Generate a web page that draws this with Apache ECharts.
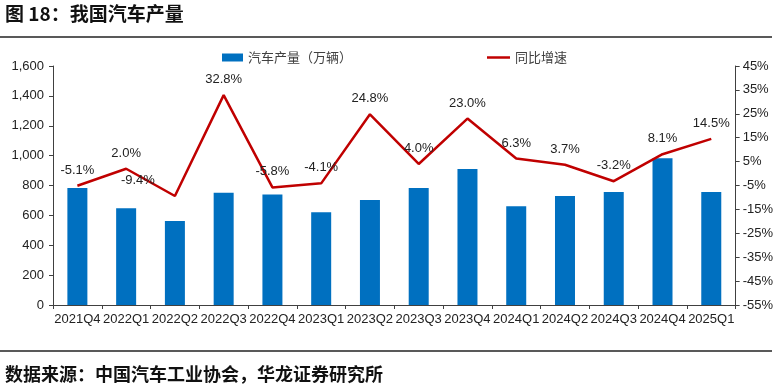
<!DOCTYPE html>
<html>
<head>
<meta charset="utf-8">
<script src="https://cdn.jsdelivr.net/npm/echarts@6/dist/echarts.min.js"></script>
<style>
html,body{margin:0;padding:0;background:#fff;}
#c{width:776px;height:391px;}
</style>
</head>
<body>
<div id="c"></div>
<script>
const categories = ['2021Q4','2022Q1','2022Q2','2022Q3','2022Q4','2023Q1','2023Q2','2023Q3','2023Q4','2024Q1','2024Q2','2024Q3','2024Q4','2025Q1'];
const production = [784, 648, 563, 752, 739, 621, 703, 783, 910, 661, 729, 756, 983, 756];
const yoyGrowth = [-5.1, 2.0, -9.4, 32.8, -5.8, -4.1, 24.8, 4.0, 23.0, 6.3, 3.7, -3.2, 8.1, 14.5];
const leftTicks = {min: 0, max: 1600, interval: 200};
const rightTicks = {min: -55, max: 45, interval: 10};

const chart = echarts.init(document.getElementById('c'));
const txt = '#404040';
const lineData = yoyGrowth.map((v, i) => {
  const d = {value: v};
  if (i === 2) d.label = {offset: [-37, 0]};
  return d;
});
chart.setOption({
  animation: false,
  backgroundColor: '#fff',
  graphic: [
    {type: 'text', left: 5, top: 4, style: {text: '图 18：我国汽车产量', font: 'bold 19px "Noto Sans CJK SC"', fill: '#111'}},
    {type: 'line', shape: {x1: 0, y1: 37, x2: 772, y2: 37}, style: {stroke: '#222', lineWidth: 1.5}},
    {type: 'line', shape: {x1: 0, y1: 351, x2: 772, y2: 351}, style: {stroke: '#222', lineWidth: 1.5}},
    {type: 'text', left: 5, top: 365, style: {text: '数据来源：中国汽车工业协会，华龙证券研究所', font: 'bold 18px "Noto Sans CJK SC"', fill: '#111'}}
  ],
  legend: [
    {left: 217, top: 46, itemWidth: 21, itemHeight: 8, data: [{name: '汽车产量（万辆）', icon: 'rect'}],
     textStyle: {color: txt, fontSize: 13, fontFamily: 'Noto Sans CJK SC'}, itemGap: 5},
    {left: 482, top: 46, itemWidth: 23, itemHeight: 2.5, data: [{name: '同比增速', icon: 'rect'}],
     textStyle: {color: txt, fontSize: 13, fontFamily: 'Noto Sans CJK SC'}}
  ],
  grid: {left: 53, right: 39, top: 66, bottom: 86, containLabel: false},
  xAxis: {
    type: 'category', data: categories,
    axisLine: {lineStyle: {color: '#404040', width: 1}},
    axisTick: {show: true, alignWithLabel: false, length: 4, lineStyle: {color: '#404040'}},
    axisLabel: {color: '#222', fontSize: 13, fontFamily: 'Liberation Sans', margin: 8, interval: 0}
  },
  yAxis: [
    {type: 'value', min: leftTicks.min, max: leftTicks.max, interval: leftTicks.interval,
     splitLine: {show: false},
     axisLine: {show: true, lineStyle: {color: '#404040'}},
     axisTick: {show: true, length: 4, lineStyle: {color: '#404040'}},
     axisLabel: {color: '#222', fontSize: 13, fontFamily: 'Liberation Sans', margin: 9,
       formatter: v => v.toLocaleString('en-US')}},
    {type: 'value', min: rightTicks.min, max: rightTicks.max, interval: rightTicks.interval,
     splitLine: {show: false},
     axisLine: {show: true, lineStyle: {color: '#404040'}},
     axisTick: {show: true, length: 4, lineStyle: {color: '#404040'}},
     axisLabel: {color: '#222', fontSize: 13, fontFamily: 'Liberation Sans', margin: 7, align: 'left',
       formatter: v => v + '%'}}
  ],
  series: [
    {name: '汽车产量（万辆）', type: 'bar', data: production, yAxisIndex: 0, barWidth: 20,
     itemStyle: {color: '#0070C0'}},
    {name: '同比增速', type: 'line', data: lineData, yAxisIndex: 1,
     symbol: 'circle', symbolSize: 0.1, showSymbol: true,
     lineStyle: {color: '#C00000', width: 2.5}, itemStyle: {color: '#C00000'},
     label: {show: true, position: 'top', distance: 9, color: '#222', fontSize: 13, fontFamily: 'Liberation Sans',
       formatter: p => p.value.toFixed(1) + '%'}}
  ]
});
</script>
</body>
</html>
